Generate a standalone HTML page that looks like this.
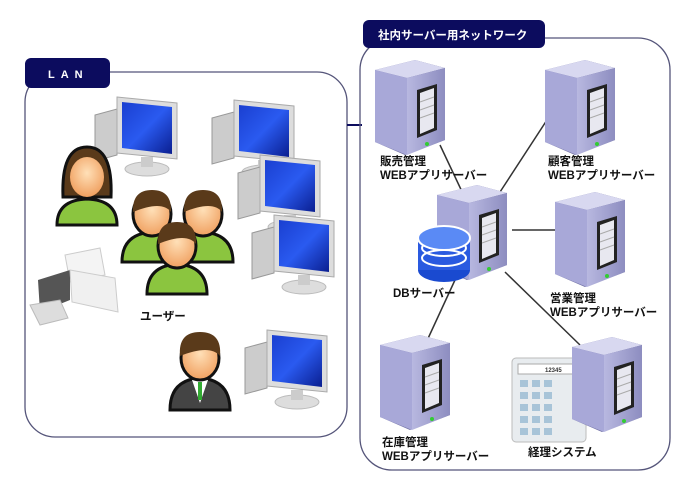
<!DOCTYPE html>
<html><head><meta charset="utf-8"><style>
body{margin:0;background:#fff;}
svg{display:block}
text{font-family:"Liberation Sans","Noto Sans CJK JP",sans-serif;font-weight:bold;}
</style></head><body>
<svg width="685" height="490" viewBox="0 0 685 490" xmlns="http://www.w3.org/2000/svg">
<defs>
<linearGradient id="srvF" x1="0" x2="1"><stop offset="0" stop-color="#b8b8e0"/><stop offset="1" stop-color="#8d8dc0"/></linearGradient>
<linearGradient id="srvS" x1="0" x2="1"><stop offset="0" stop-color="#7c7cb0"/><stop offset="1" stop-color="#5d5d90"/></linearGradient>
<linearGradient id="scr" x1="0" y1="0" x2="1" y2="1"><stop offset="0" stop-color="#1a3fd0"/><stop offset="0.5" stop-color="#2a5af0"/><stop offset="1" stop-color="#0a1e90"/></linearGradient>
<radialGradient id="face" cx="0.5" cy="0.4" r="0.6"><stop offset="0" stop-color="#ffe0b8"/><stop offset="1" stop-color="#f0a060"/></radialGradient>
<g id="server">
<polygon points="0,10 40,0 70,8 70,80 30,95 0,82" fill="url(#srvS)"/>
<polygon points="0,10 40,0 70,8 32,18" fill="#d8d8f0"/>
<polygon points="32,18 70,8 70,80 32,95" fill="url(#srvF)"/>
<polygon points="0,10 32,18 32,95 0,82" fill="#a8a8d8"/>
<polygon points="42,30 62,24 62,70 42,78" fill="#222"/>
<polygon points="45,33 59,28 59,68 45,74" fill="#e8e8f0"/>
<line x1="45" y1="42" x2="59" y2="37" stroke="#aaa"/><line x1="45" y1="50" x2="59" y2="45" stroke="#aaa"/><line x1="45" y1="58" x2="59" y2="53" stroke="#aaa"/>
<circle cx="52" cy="84" r="2" fill="#3c3"/>
</g>
<g id="pc">
<polygon points="0,18 22,12 22,58 0,64" fill="#ccc" stroke="#999"/>
<polygon points="22,0 82,6 82,62 22,56" fill="#ddd" stroke="#aaa"/>
<polygon points="27,5 77,10 77,57 27,51" fill="url(#scr)"/>
<ellipse cx="52" cy="72" rx="22" ry="7" fill="#ddd" stroke="#bbb"/>
<rect x="46" y="60" width="12" height="10" fill="#ccc"/>
</g>
<g id="person">
<path d="M-30,60 Q-30,32 0,30 Q30,32 30,60 Z" fill="#8bc53f" stroke="#111" stroke-width="3"/>
<ellipse cx="0" cy="12" rx="19" ry="22" fill="url(#face)" stroke="#111" stroke-width="3"/>
<path d="M-19,10 Q-20,-12 0,-12 Q20,-12 19,10 Q10,-2 -19,10Z" fill="#5a3a1a"/>
</g>
</defs>

<!-- LAN box -->
<rect x="25" y="72" width="322" height="365" rx="30" fill="none" stroke="#55557a" stroke-width="1.3"/>
<rect x="25" y="58" width="85" height="30" rx="6" fill="#0c0c5e"/>
<text x="48" y="78" fill="#fff" font-size="11" letter-spacing="6">LAN</text>
<line x1="347" y1="125" x2="362" y2="125" stroke="#0c0c5e" stroke-width="2"/>

<!-- Network box -->
<rect x="360" y="38" width="310" height="432" rx="32" fill="none" stroke="#55557a" stroke-width="1.3"/>
<rect x="363" y="20" width="182" height="28" rx="6" fill="#0c0c5e"/>
<text x="378" y="39" fill="#fff" font-size="11.5">社内サーバー用ネットワーク</text>

<!-- lines -->
<g stroke="#333" stroke-width="1.5">
<line x1="440" y1="145" x2="465" y2="198"/>
<line x1="560" y1="100" x2="500" y2="192"/>
<line x1="512" y1="230" x2="560" y2="230"/>
<line x1="455" y1="280" x2="425" y2="345"/>
<line x1="505" y1="272" x2="580" y2="345"/>
</g>

<use href="#server" x="375" y="60"/>
<use href="#server" x="545" y="60"/>
<use href="#server" x="437" y="185"/>
<use href="#server" x="555" y="192"/>
<use href="#server" x="380" y="335"/>

<!-- calculator -->
<rect x="512" y="358" width="74" height="84" rx="4" fill="#e8ecef" stroke="#bbb"/>
<rect x="518" y="364" width="62" height="10" fill="#fff" stroke="#aaa"/>
<text x="545" y="372" font-size="6" fill="#333" font-weight="normal">12345</text>
<g fill="#a8c4d8">
<rect x="520" y="380" width="8" height="7"/><rect x="532" y="380" width="8" height="7"/><rect x="544" y="380" width="8" height="7"/>
<rect x="520" y="392" width="8" height="7"/><rect x="532" y="392" width="8" height="7"/><rect x="544" y="392" width="8" height="7"/>
<rect x="520" y="404" width="8" height="7"/><rect x="532" y="404" width="8" height="7"/><rect x="544" y="404" width="8" height="7"/>
<rect x="520" y="416" width="8" height="7"/><rect x="532" y="416" width="8" height="7"/><rect x="544" y="416" width="8" height="7"/>
<rect x="520" y="428" width="8" height="7"/><rect x="532" y="428" width="8" height="7"/><rect x="544" y="428" width="8" height="7"/>
</g>
<use href="#server" x="572" y="337"/>

<!-- DB -->
<g>
<ellipse cx="444" cy="270" rx="26" ry="12" fill="#1a4ad0"/>
<rect x="418" y="238" width="52" height="32" fill="#2a5ae0"/>
<ellipse cx="444" cy="258" rx="22" ry="8" fill="none" stroke="#fff" stroke-width="2"/>
<ellipse cx="444" cy="248" rx="22" ry="8" fill="none" stroke="#fff" stroke-width="2"/>
<ellipse cx="444" cy="238" rx="26" ry="12" fill="#5a8af5" stroke="#fff" stroke-width="2"/>
</g>

<!-- labels -->
<g font-size="11.5" fill="#111">
<text x="380" y="165">販売管理</text><text x="380" y="179">WEBアプリサーバー</text>
<text x="548" y="165">顧客管理</text><text x="548" y="179">WEBアプリサーバー</text>
<text x="393" y="297">DBサーバー</text>
<text x="550" y="302">営業管理</text><text x="550" y="316">WEBアプリサーバー</text>
<text x="382" y="446">在庫管理</text><text x="382" y="460">WEBアプリサーバー</text>
<text x="528" y="456">経理システム</text>
<text x="140" y="320">ユーザー</text>
</g>

<!-- LAN devices -->
<use href="#pc" x="95" y="97"/>
<use href="#pc" x="212" y="100"/>
<use href="#pc" x="238" y="155"/>
<use href="#pc" x="252" y="215"/>
<use href="#pc" x="245" y="330"/>

<!-- printer -->
<g>
<polygon points="65,255 100,248 105,275 70,282" fill="#f4f4f4" stroke="#ccc"/>
<polygon points="38,280 70,270 70,300 40,312" fill="#555"/>
<polygon points="70,270 115,278 118,312 72,302" fill="#f0f0f0" stroke="#ccc"/>
<polygon points="30,305 60,300 68,318 40,325" fill="#ddd" stroke="#bbb"/>
</g>

<!-- people -->
<g transform="translate(87,175)">
<path d="M-30,50 Q-30,25 0,24 Q30,25 30,50 Z" fill="#8bc53f" stroke="#111" stroke-width="3"/>
<path d="M-24,22 Q-26,-28 0,-28 Q26,-28 24,22 Z" fill="#5a3a1a" stroke="#111" stroke-width="3"/>
<ellipse cx="0" cy="2" rx="17" ry="20" fill="url(#face)"/>
</g>
<use href="#person" x="152" y="202"/>
<use href="#person" x="203" y="202"/>
<use href="#person" x="177" y="234"/>
<g transform="translate(200,348)">
<path d="M-30,62 Q-30,32 0,30 Q30,32 30,62 Z" fill="#444" stroke="#111" stroke-width="3"/>
<polygon points="-8,32 8,32 0,55" fill="#fff"/><rect x="-2" y="34" width="4" height="18" fill="#3a3"/>
<ellipse cx="0" cy="10" rx="19" ry="22" fill="url(#face)" stroke="#111" stroke-width="3"/>
<path d="M-20,8 Q-22,-16 0,-16 Q22,-16 20,8 Q10,-4 -20,8Z" fill="#5a3a1a"/>
</g>
</svg>
</body></html>
